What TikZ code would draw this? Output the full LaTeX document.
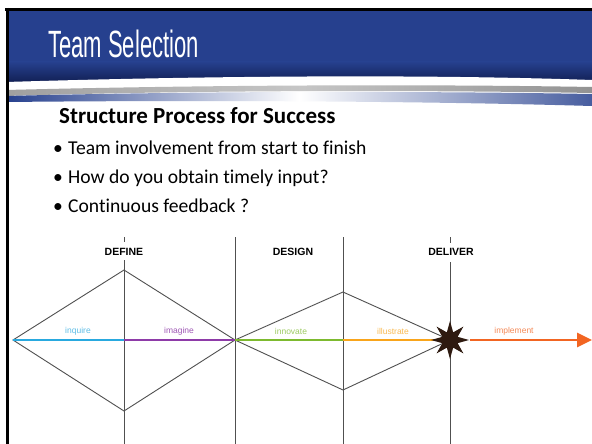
\documentclass[tikz,border=0pt]{standalone}
\usepackage{fontspec}
\setmainfont[Ligatures={NoCommon}]{Carlito}
\newfontfamily\titlefont[FakeStretch=0.58]{Liberation Sans}
\newfontfamily\labfont{Liberation Sans}
\usetikzlibrary{arrows.meta,shapes.geometric}
\definecolor{hdrblue}{RGB}{38,64,142}
\definecolor{hdrnavy}{RGB}{14,26,74}
\definecolor{cInq}{RGB}{41,169,223}
\definecolor{cImg}{RGB}{142,59,168}
\definecolor{cInn}{RGB}{125,186,47}
\definecolor{cIll}{RGB}{249,165,27}
\definecolor{cImp}{RGB}{242,101,34}
\definecolor{starbrown}{RGB}{46,26,16}
\definecolor{lineg}{RGB}{80,80,80}
\tikzset{
  bodytext/.style={anchor=base west, inner sep=0, font=\fontsize{19.6}{23}\selectfont},
  phase/.style={font=\labfont\bfseries\fontsize{10.5}{12}\selectfont, text=black},
  sublab/.style={font=\labfont\fontsize{8.5}{10}\selectfont},
  vline/.style={draw=lineg, line width=0.9pt},
  dline/.style={draw=lineg, line width=0.9pt},
  axis/.style={line width=2.6pt},
}
\begin{document}
\begin{tikzpicture}[x=1pt,y=-1pt]
\useasboundingbox (0,0) rectangle (592,444);
\fill[white] (0,0) rectangle (592,444);
% header
\fill[hdrblue] (6,8) rectangle (592,86);
\shade[top color=hdrblue, bottom color=hdrnavy] (6,62) rectangle (592,86);
\fill[white] (6,82) .. controls (200,76) and (420,74) .. (592,80) -- (592,112) -- (6,112) -- cycle;
\shade[left color=gray!75, right color=gray!85, middle color=gray!45]
  (6,90) .. controls (200,85) and (420,84) .. (592,87) -- (592,93) .. controls (420,90) and (200,90) .. (6,96) -- cycle;
\shade[left color=hdrblue, right color=hdrblue!85, middle color=white]
  (6,96) .. controls (200,91) and (420,91) .. (592,94) -- (592,106) .. controls (420,101) and (200,100) .. (6,102) -- cycle;
\draw[black, line width=2.6pt] (5,9.3) -- (592,9.3);
\draw[black, line width=2.6pt] (7.3,8) -- (7.3,444);
\node[anchor=base west, text=white, font=\titlefont\fontsize{38}{40}\selectfont, inner sep=0] (title) at (48,57.5) {Team Selection};
% body
\node[bodytext, font=\bfseries\fontsize{23}{26}\selectfont] (head) at (59,124) {Structure Process for Success};
\node[bodytext] (b1) at (53,154) {•};
\node[bodytext] (t1) at (68,154) {Team involvement from start to finish};
\node[bodytext] (b2) at (53,183) {•};
\node[bodytext] (t2) at (68,183) {How do you obtain timely input?};
\node[bodytext] (b3) at (53,212.5) {•};
\node[bodytext] (t3) at (68,212.5) {Continuous feedback ?};
% diagram coordinates
\coordinate (L) at (13,340);
\coordinate (T1) at (124,270);
\coordinate (B1) at (124,411);
\coordinate (M) at (235,340);
\coordinate (T2) at (343,292);
\coordinate (B2) at (343,390);
\coordinate (S) at (450,340);
\coordinate (C1) at (124,340);
\coordinate (C2) at (343,340);
\coordinate (E) at (592,340);
% vertical lines
\coordinate (v1a) at (124,237); \coordinate (v1b) at (124,242);
\coordinate (v1c) at (124,260); \coordinate (v1d) at (124,444);
\coordinate (v2a) at (235,237); \coordinate (v2d) at (235,444);
\coordinate (v3a) at (343,237); \coordinate (v3d) at (343,444);
\coordinate (v4a) at (450,237); \coordinate (v4b) at (450,243);
\coordinate (v4c) at (450,262); \coordinate (v4d) at (450,444);
\draw[vline] (v1a) -- (v1b) (v1c) -- (v1d);
\draw[vline] (v2a) -- (v2d);
\draw[vline] (v3a) -- (v3d);
\draw[vline] (v4a) -- (v4b) (v4c) -- (v4d);
\node[phase] (define) at (124,252) {DEFINE};
\node[phase] (design) at (293,252) {DESIGN};
\node[phase] (deliver) at (451,252) {DELIVER};
% diamonds
\draw[dline] (L) -- (T1) -- (M) -- (B1) -- cycle;
\draw[dline] (M) -- (T2) -- (S) -- (B2) -- cycle;
% axis
\draw[axis, cInq] (L) -- (C1);
\draw[axis, cImg] (C1) -- (M);
\draw[axis, cInn] (M) -- (C2);
\draw[axis, cIll] (C2) -- (S);
\node[star, star points=8, star point ratio=2.3, minimum size=38pt, fill=starbrown, inner sep=0] (star) at (S) {};
\draw[axis, cImp, -{Triangle[length=15pt,width=14pt]}] (star.east) -- (E);
% sublabels
\node[sublab, text=cInq!75] (inq) at (78,331) {inquire};
\node[sublab, text=cImg!85] (img) at (179,331) {imagine};
\node[sublab, text=cInn!75] (inn) at (291,331) {innovate};
\node[sublab, text=cIll!75] (ill) at (393,331) {illustrate};
\node[sublab, text=cImp!75] (imp) at (514,331) {implement};
\end{tikzpicture}
\end{document}
